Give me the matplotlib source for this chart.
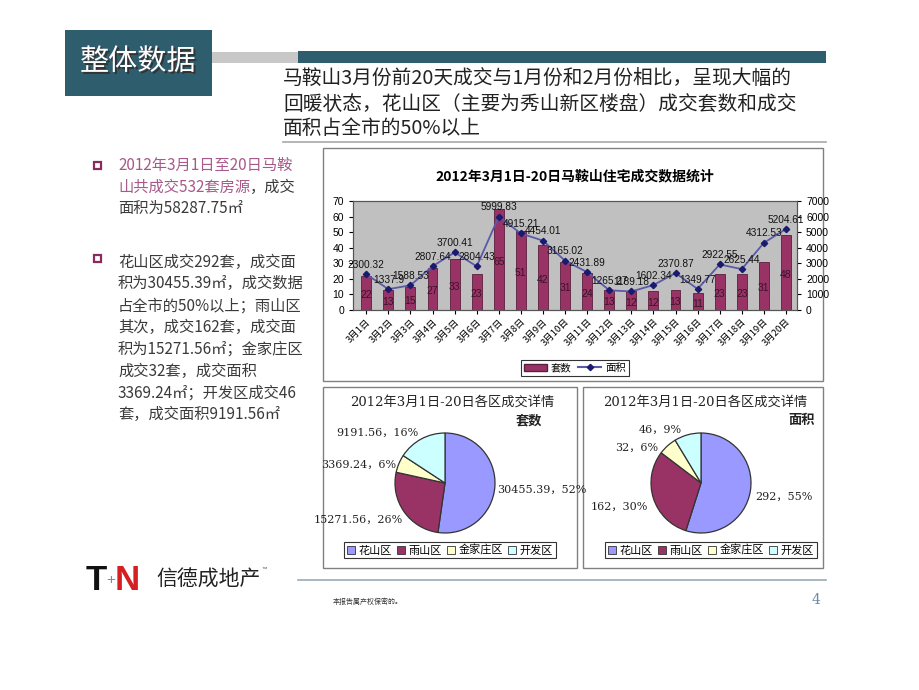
import matplotlib
matplotlib.use('Agg')
import matplotlib.pyplot as plt
from matplotlib.patches import Rectangle, Patch
from matplotlib.lines import Line2D

plt.rcParams['font.family'] = ['Liberation Sans', 'Noto Sans CJK SC', 'DejaVu Sans']

# data
dates = [f'3月{i}日' for i in range(1, 21)]
counts = [22, 13, 15, 27, 33, 23, 65, 51, 42, 31, 24, 13, 12, 12, 13, 11, 23, 23, 31, 48]
areas = [2300.32, 1337.9, 1588.53, 2807.64, 3700.41, 2804.43, 5999.83, 4915.21, 4454.01, 3165.02,
         2431.89, 1265.27, 1189.18, 1602.34, 2370.87, 1349.77, 2922.55, 2625.44, 4312.53, 5204.61]
area_labels = ['2300.32', '1337.9', '1588.53', '2807.64', '3700.41', '2804.43', '5999.83', '4915.21',
               '4454.01', '3165.02', '2431.89', '1265.27', '1189.18', '1602.34', '2370.87', '1349.77',
               '2922.55', '2625.44', '4312.53', '5204.61']
districts = ['花山区', '雨山区', '金家庄区', '开发区']
district_area = [30455.39, 15271.56, 3369.24, 9191.56]
district_area_pct = [52, 26, 6, 16]
district_count = [292, 162, 32, 46]
district_count_pct = [55, 30, 6, 9]
pie_colors = ['#9999FF', '#993366', '#FFFFCC', '#CCFFFF']

W, H = 920, 690
fig = plt.figure(figsize=(9.2, 6.9), dpi=100)


def fx(x):
  return x / W


def fy(y):
  return 1 - y / H


def box(x0, y0, x1, y1, **kw):
  kw.setdefault('zorder', -5)
  fig.patches.append(Rectangle((fx(x0), fy(y1)), fx(x1) - fx(x0), fy(y0) - fy(y1),
                               transform=fig.transFigure, **kw))


def add_axes_px(x0, y0, x1, y1):
  return fig.add_axes([fx(x0), fy(y1), fx(x1) - fx(x0), fy(y0) - fy(y1)])


CJK = ['Noto Sans CJK SC', 'DejaVu Sans']
SERIF = ['DejaVu Serif', 'Noto Sans CJK SC']

# header
teal = '#2E5E6E'
box(65, 30, 212, 96, facecolor=teal, edgecolor='none')
box(212, 52, 298, 63, facecolor='#C8C8C8', edgecolor='none')
box(298, 51, 826, 63, facecolor=teal, edgecolor='none')
fig.text(fx(140), fy(64), '整体数据', family=CJK, fontsize=21, color='#333333',
         ha='center', va='center')
fig.text(fx(138.5), fy(62.5), '整体数据', family=CJK, fontsize=21, color='white',
         ha='center', va='center')
head_lines = ['马鞍山3月份前20天成交与1月份和2月份相比，呈现大幅的',
              '回暖状态，花山区（主要为秀山新区楼盘）成交套数和成交',
              '面积占全市的50%以上']
for i, t in enumerate(head_lines):
  fig.text(fx(283), fy(79 + 25 * i), t, family=CJK, fontsize=14.2, color='#222222', va='center')
fig.add_artist(Line2D([fx(283), fx(826)], [fy(142), fy(142)], color='#A8A8A8', lw=1.2))

# left text
pink = '#A8588A'
dark = '#3a3a3a'
for by in [165, 258]:
  box(94, by - 3.5, 101, by + 3.5, facecolor='none', edgecolor='#8B2A5C', lw=1.6, zorder=2)
fig.text(fx(118), fy(165), '2012年3月1日至20日马鞍', family=CJK, fontsize=11, color=pink, va='center')
t2 = fig.text(fx(118), fy(187), '山共成交532套房源', family=CJK, fontsize=11, color=pink, va='center')
renderer = fig.canvas.get_renderer()
bb = t2.get_window_extent(renderer)
fig.text(bb.x1 / W, fy(187), '，成交', family=CJK, fontsize=11, color=dark, va='center')
fig.text(fx(118), fy(208), '面积为58287.75㎡', family=CJK, fontsize=11, color=dark, va='center')
body = ['花山区成交292套，成交面', '积为30455.39㎡，成交数据', '占全市的50%以上；雨山区',
        '其次，成交162套，成交面', '积为15271.56㎡；金家庄区', '成交32套，成交面积',
        '3369.24㎡；开发区成交46', '套，成交面积9191.56㎡']
for i, t in enumerate(body):
  fig.text(fx(118), fy(262 + 21.8 * i), t, family=CJK, fontsize=11, color=dark, va='center')

# bar + line chart
box(323, 148, 823, 381, facecolor='white', edgecolor='#808080', lw=1)
fig.text(fx(575), fy(176), '2012年3月1日-20日马鞍山住宅成交数据统计', family=CJK,
         fontsize=10, weight='bold', ha='center', va='center')
ax = add_axes_px(353, 201, 797, 310)
ax.set_facecolor('#C0C0C0')
x = list(range(len(dates)))
ax.bar(x, counts, width=0.45, color='#993366', edgecolor='#5a1f3c', lw=0.6, zorder=2)
for xi, c in zip(x, counts):
  ax.text(xi, c / 2 - 1.5, str(c), ha='center', va='center', fontsize=7.5, color='#3a1428', zorder=5)
ax.set_xlim(-0.6, 19.5)
ax.set_ylim(0, 70)
ax.set_yticks(range(0, 71, 10))
ax.set_xticks(x)
ax.set_xticklabels(dates, rotation=45, ha='right', rotation_mode='anchor', family=CJK, fontsize=6.8)
ax.tick_params(axis='y', labelsize=7.5, length=3)
ax.tick_params(axis='x', length=3, pad=2)
for s in ax.spines.values():
  s.set_color('#555555')
  s.set_linewidth(0.8)
ax2 = ax.twinx()
ax2.plot(x, areas, color='#5a5aa8', lw=1.3, marker='D', ms=3.2, mfc='#1a1a6e', mec='#1a1a6e', zorder=4)
ax2.set_ylim(0, 7000)
ax2.set_yticks(range(0, 7001, 1000))
ax2.tick_params(axis='y', labelsize=7.5, length=3)
for xi, a, lab in zip(x, areas, area_labels):
  ax2.text(xi, a + 280, lab, ha='center', va='bottom', fontsize=7.3, color='#111111', zorder=6)
for s in ax2.spines.values():
  s.set_color('#555555')
  s.set_linewidth(0.8)
handles = [Patch(facecolor='#993366', edgecolor='#5a1f3c'),
           Line2D([0], [0], color='#5a5aa8', marker='D', ms=3.2, mfc='#1a1a6e', mec='#1a1a6e')]
leg = fig.legend(handles, ['套数', '面积'], loc='center', bbox_to_anchor=(fx(575), fy(368)),
                 ncol=2, frameon=True, fancybox=False, handlelength=2.2,
                 handletextpad=0.4, columnspacing=0.6, borderpad=0.3, prop={'family': CJK, 'size': 7.5})
leg.get_frame().set_edgecolor('black')
leg.get_frame().set_linewidth(0.8)


# pies
def draw_pie(bx0, bx1, cx, cy, values, pcts, label_pos, subtitle, sub_x, legend_cx):
  box(bx0, 387, bx1, 568, facecolor='white', edgecolor='#808080', lw=1)
  fig.text(fx((bx0 + bx1) / 2 + 2), fy(402), '2012年3月1日-20日各区成交详情', family=SERIF,
           fontsize=9.5, ha='center', va='center', color='#222222')
  fig.text(fx(sub_x), fy(420), subtitle, family=CJK, fontsize=9.5, weight='bold',
           ha='right', va='center', color='#222222')
  pax = add_axes_px(cx - 50, cy - 50, cx + 50, cy + 50)
  pax.pie(values, colors=pie_colors, startangle=90, counterclock=False, radius=1,
          wedgeprops={'edgecolor': '#333333', 'linewidth': 0.9})
  pax.set_xlim(-1, 1)
  pax.set_ylim(-1, 1)
  pax.set_aspect('equal')
  pax.axis('off')
  for v, p, (lx, ly, ha) in zip(values, pcts, label_pos):
    if isinstance(v, float):
      s = f'{v:.2f}，{p}%'
    else:
      s = f'{v}，{p}%'
    pax.text(lx, ly, s, ha=ha, va='center', fontsize=8, family=SERIF, color='#222222', clip_on=False)
  hs = [Patch(facecolor=c, edgecolor='#333333', lw=0.6) for c in pie_colors]
  lg = fig.legend(hs, districts, loc='center', bbox_to_anchor=(fx(legend_cx), fy(550)), ncol=4,
                  fancybox=False, handlelength=0.7, handleheight=0.7, handletextpad=0.3,
                  columnspacing=0.5, borderpad=0.25, prop={'family': CJK, 'size': 8})
  lg.get_frame().set_edgecolor('black')
  lg.get_frame().set_linewidth(0.8)


draw_pie(323, 577, 445, 483, district_area, district_area_pct,
         [(1.04, -0.14, 'left'), (-0.84, -0.74, 'right'), (-0.98, 0.36, 'right'), (-0.52, 1.0, 'right')],
         '套数', 542, 450)
draw_pie(583, 823, 701, 483, district_count, district_count_pct,
         [(1.08, -0.28, 'left'), (-1.06, -0.48, 'right'), (-0.86, 0.7, 'right'), (-0.38, 1.06, 'right')],
         '面积', 815, 711)

# footer
fig.add_artist(Line2D([fx(298), fx(826)], [fy(580), fy(580)], color='#9AAAB5', lw=1.2))
fig.text(fx(333), fy(602), '本报告属产权保密的。', family=CJK, fontsize=5, color='#333333', va='center')
fig.text(fx(820), fy(600), '4', family=SERIF, fontsize=10, color='#6A8AA0', ha='right', va='center')
fig.text(fx(86), fy(580), 'T', fontsize=25, weight='bold', color='#111111', va='center')
fig.text(fx(106), fy(580), '+', fontsize=11, color='#888888', va='center')
fig.text(fx(115), fy(580), 'N', fontsize=25, weight='bold', color='#D42020', va='center')
fig.text(fx(156), fy(580), '信德成地产', family=CJK, fontsize=15, color='#222222', va='center')
fig.text(fx(261), fy(569), '™', fontsize=4, color='#555555', va='center')

fig.savefig('out.png', dpi=100)
